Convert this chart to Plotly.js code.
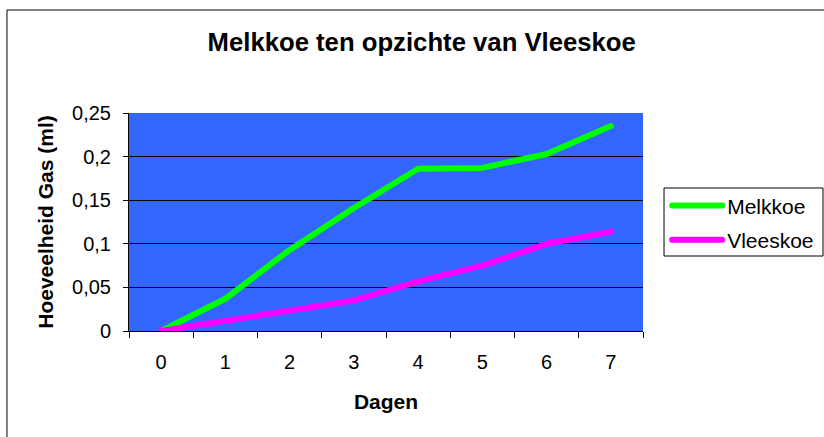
<!DOCTYPE html>
<html>
<head>
<meta charset="utf-8">
<script src="https://cdn.plot.ly/plotly-3.0.1.min.js"></script>
<style>
  html, body { margin: 0; padding: 0; background: #fff; }
  #chart { width: 824px; height: 437px; }
  path.js-line { stroke-linecap: round; stroke-linejoin: round; }
</style>
</head>
<body>
<div id="chart"></div>
<script>
const days = ["0", "1", "2", "3", "4", "5", "6", "7"];
const melkkoe = [0, 0.037, 0.093, 0.141, 0.186, 0.187, 0.203, 0.235];
const vleeskoe = [0, 0.012, 0.023, 0.035, 0.057, 0.075, 0.100, 0.114];
const seriesNames = ["Melkkoe", "Vleeskoe"];
const yTicks = [0, 0.05, 0.1, 0.15, 0.2, 0.25];

const FONT = "Liberation Sans, Arial, sans-serif";

const traces = [
  {
    x: days, y: melkkoe, name: seriesNames[0], type: "scatter", mode: "lines",
    line: { color: "#00FF00", width: 6 }, legendgroup: "a"
  },
  {
    x: days, y: vleeskoe, name: seriesNames[1], type: "scatter", mode: "lines",
    line: { color: "#FF00FF", width: 6 }, legendgroup: "b"
  }
];

const layout = {
  width: 824, height: 437,
  margin: { l: 129, r: 181, t: 113, b: 106, pad: 0, autoexpand: false },
  paper_bgcolor: "#ffffff",
  plot_bgcolor: "#3366FF",
  separators: ",.",
  font: { family: FONT, color: "#000" },
  showlegend: true,
  title: {
    text: "<b>Melkkoe ten opzichte van Vleeskoe</b>",
    font: { family: FONT, size: 25.7, color: "#000" },
    x: 0.5118, xref: "container", xanchor: "center",
    y: 0.905, yref: "container", yanchor: "middle"
  },
  xaxis: {
    type: "category",
    range: [-0.5, 7.5],
    tickson: "boundaries",
    ticks: "outside", ticklen: 6, tickcolor: "#000", tickwidth: 1,
    showline: true, linecolor: "#000", linewidth: 1,
    showgrid: false, zeroline: false,
    ticklabelstandoff: 13,
    tickfont: { family: FONT, size: 20, color: "#000" },
    title: { text: "<b>Dagen</b>", font: { family: FONT, size: 21, color: "#000" }, standoff: 22 }
  },
  yaxis: {
    range: [0, 0.25],
    tickvals: yTicks,
    ticks: "outside", ticklen: 5, tickcolor: "#000", tickwidth: 1,
    showline: true, linecolor: "#000", linewidth: 1,
    showgrid: true, gridcolor: "#000", gridwidth: 1,
    zeroline: false,
    ticklabelstandoff: 8,
    tickfont: { family: FONT, size: 20, color: "#000" },
    title: { text: "<b>Hoeveelheid Gas (ml)</b>", font: { family: FONT, size: 21, color: "#000" }, standoff: 12 }
  },
  legend: {
    x: 1.047, xanchor: "left", y: 0.668, yanchor: "top",
    bgcolor: "rgba(0,0,0,0)", borderwidth: 0,
    font: { family: FONT, size: 21, color: "#000" },
    tracegroupgap: 4,
    itemwidth: 50
  },
  shapes: [
    {
      type: "rect", xref: "paper", yref: "paper",
      x0: -0.2374, x1: 3, y0: -3, y1: 1.4725,
      line: { color: "#000", width: 1 }, fillcolor: "rgba(0,0,0,0)", layer: "below"
    },
    {
      type: "rect", xref: "paper", yref: "paper",
      x0: 1.0409, x1: 1.3502, y0: 0.344, y1: 0.656,
      line: { color: "#000", width: 1 }, fillcolor: "#ffffff", layer: "below"
    }
  ]
};

Plotly.newPlot("chart", traces, layout, { displayModeBar: false, staticPlot: true });
</script>
</body>
</html>
